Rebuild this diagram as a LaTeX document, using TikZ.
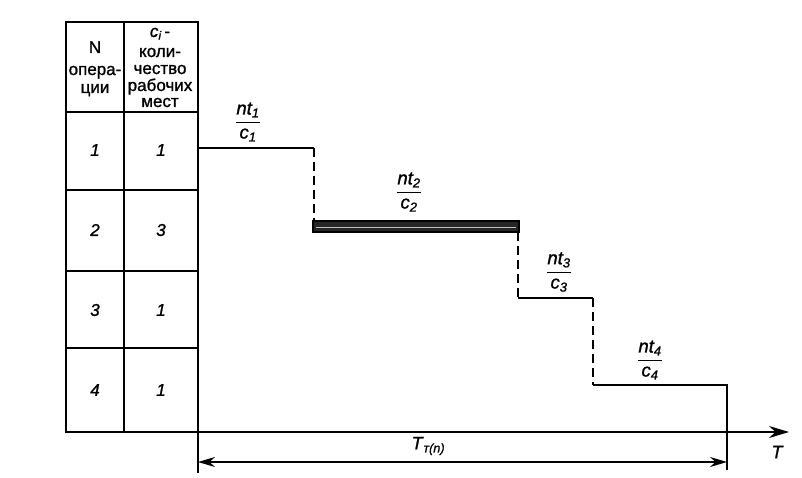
\documentclass[tikz,border=0pt]{standalone}
\usepackage{amsmath}
\usepackage{fontspec}
\setmainfont{Liberation Sans}[FakeBold=1.2]
\newfontfamily\slcyr{Liberation Sans}[FakeSlant=0.2,FakeBold=1.2]
\usetikzlibrary{arrows.meta}
\newcommand{\stfrac}[2]{$\genfrac{}{}{1.4pt}{0}{\text{\itshape #1}}{\text{\itshape #2}}$}
\begin{document}
\begin{tikzpicture}[x=1pt,y=-1pt,
  tbl/.style={line width=1.6pt},
  stepline/.style={line width=2pt},
  dashline/.style={line width=2pt, dash pattern=on 9pt off 5pt},
  cellnum/.style={font=\fontsize{17}{17}\selectfont\itshape, inner sep=0pt},
  headtxt/.style={font=\fontsize{17}{17}\selectfont, inner sep=0pt, anchor=base},
  frlbl/.style={font=\fontsize{18.5}{18.5}\selectfont, inner sep=0pt},
  bigtip/.style={-{Stealth[length=20pt,width=12pt]}},
  dimtip/.style={{Stealth[length=17pt,width=10pt]}-{Stealth[length=17pt,width=10pt]}}
  ]
\useasboundingbox (0,0) rectangle (802,478);
\fill[white] (0,0) rectangle (802,478);

% table
\coordinate (tl) at (66,22);
\coordinate (tr) at (198,22);
\coordinate (bl) at (66,432);
\coordinate (br) at (198,432);
\coordinate (axbot) at (198,473);
\coordinate (axend) at (789,432);
\draw[tbl] (tl) rectangle (br);
\draw[tbl] (124,22) -- (124,432);
\foreach \yy in {112,190,271,348} \draw[tbl] (66,\yy) -- (198,\yy);
\draw[tbl] (tr) -- (axbot);
\draw[tbl, bigtip] (bl) -- (axend);

% header text
\node[headtxt] (h1) at (95,53) {N};
\node[headtxt] (h2) at (95,75) {опера-};
\node[headtxt] (h3) at (95,93) {ции};
\node[headtxt] (h4) at (160,37) {\itshape c\textsubscript{i}\,\upshape-};
\node[headtxt] (h5) at (160,57) {коли-};
\node[headtxt] (h6) at (160,74) {чество};
\node[headtxt] (h7) at (160,91) {рабочих};
\node[headtxt] (h8) at (160,107) {мест};

% cells
\node[cellnum] (a1) at (95,150) {1};
\node[cellnum] (b1) at (161,150) {1};
\node[cellnum] (a2) at (95,230) {2};
\node[cellnum] (b2) at (161,230) {3};
\node[cellnum] (a3) at (95,310) {3};
\node[cellnum] (b3) at (161,310) {1};
\node[cellnum] (a4) at (95,390) {4};
\node[cellnum] (b4) at (161,390) {1};

% steps
\coordinate (s1a) at (198,148);
\coordinate (s1b) at (314,148);
\coordinate (s2a) at (314,221);
\coordinate (s2b) at (518,232);
\coordinate (s3a) at (518,298);
\coordinate (s3b) at (593,298);
\coordinate (s4a) at (593,385);
\coordinate (s4b) at (727,385);
\coordinate (s4c) at (727,470);
\draw[stepline] (s1a) -- (s1b);
\draw[dashline] (s1b) -- (s2a);
\fill[black!85] (313,221) rectangle (519,232);
\draw[line width=1.4pt] (313,221) rectangle (519,232);
\draw[line width=1pt, black!25] (316,227.5) -- (516,227.5);
\draw[dashline] (s2b) -- (s3a);
\draw[stepline] (s3a) -- (s3b);
\draw[dashline] (s3b) -- (s4a);
\draw[stepline] (s4a) -- (s4b) -- (s4c);

% fractions
\node[frlbl] (f1) at (248,122) {\stfrac{nt\textsubscript{1}}{c\textsubscript{1}}};
\node[frlbl] (f2) at (409,192) {\stfrac{nt\textsubscript{2}}{c\textsubscript{2}}};
\node[frlbl] (f3) at (559,272) {\stfrac{nt\textsubscript{3}}{c\textsubscript{3}}};
\node[frlbl] (f4) at (650,360) {\stfrac{nt\textsubscript{4}}{c\textsubscript{4}}};

% dimension
\coordinate (d1) at (198,462);
\coordinate (d2) at (727,462);
\draw[tbl, dimtip] (d1) -- (d2);
\node[font=\fontsize{18}{18}\selectfont\itshape, inner sep=0pt] (tt) at (428,446) {T\textsubscript{\slcyr\upshape т(n)}};
\node[font=\fontsize{18}{18}\selectfont\itshape, inner sep=0pt] (tax) at (777,452) {T};
\end{tikzpicture}
\end{document}
